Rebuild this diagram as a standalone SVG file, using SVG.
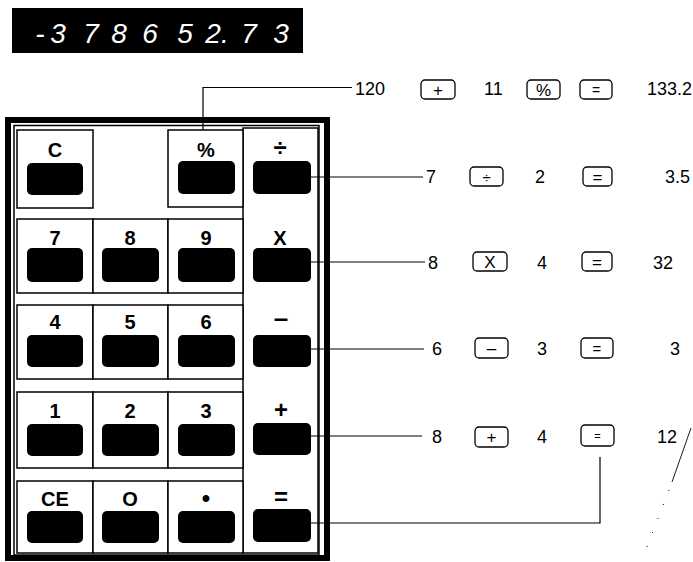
<svg xmlns="http://www.w3.org/2000/svg" width="693" height="562" viewBox="0 0 693 562">
<style>
.cell{fill:#fff;stroke:#000;stroke-width:1.5}
.key{fill:#000}
.lbl{font-family:"Liberation Sans",Arial,sans-serif;font-weight:bold;font-size:20px;text-anchor:middle;fill:#000}
.t{font-family:"Liberation Sans",Arial,sans-serif;font-size:18px;fill:#000}
.te{font-family:"Liberation Sans",Arial,sans-serif;font-size:18px;fill:#000;text-anchor:end}
.ic{fill:none;stroke:#000;stroke-width:1.3}
.is{font-family:"Liberation Sans",Arial,sans-serif;font-size:17px;text-anchor:middle;fill:#000}
.con{fill:none;stroke:#000;stroke-width:1.2}
.seg{font-family:"Liberation Sans",Arial,sans-serif;font-style:italic;font-size:28px;fill:#fff;text-anchor:middle}
</style>
<rect width="693" height="562" fill="#fff"/>
<g id="display">
<rect x="12" y="8" width="291" height="45" fill="#000"/>
<text class="seg" x="40" y="43">-</text>
<text class="seg" x="58" y="43">3</text>
<text class="seg" x="91" y="43">7</text>
<text class="seg" x="119" y="43">8</text>
<text class="seg" x="150" y="43">6</text>
<text class="seg" x="185" y="43">5</text>
<text class="seg" x="213" y="43">2</text>
<text class="seg" x="225" y="43">.</text>
<text class="seg" x="249" y="43">7</text>
<text class="seg" x="281" y="43">3</text>
</g>
<g id="frame">
<rect x="8" y="120" width="319" height="438" fill="none" stroke="#000" stroke-width="6"/>
<rect x="14" y="125.5" width="305" height="429.5" fill="none" stroke="#000" stroke-width="1.5"/>
<rect class="cell" x="243" y="128" width="75" height="425"/>
</g>
<g id="key-C"><rect class="cell" x="17" y="130" width="76" height="78"/><rect class="key" x="27" y="163" width="56" height="32" rx="5"/><text class="lbl" x="55" y="157">C</text></g>
<g id="key-pct"><rect class="cell" x="168" y="130" width="75" height="77"/><rect class="key" x="178" y="161" width="57" height="33" rx="5"/><text class="lbl" x="206" y="157">%</text></g>
<g id="key-div"><rect class="key" x="253" y="161" width="58" height="33" rx="5"/><text class="lbl" x="280" y="156" style="font-size:24px">÷</text></g>
<g id="key-7"><rect class="cell" x="17" y="219" width="76" height="74"/><rect class="key" x="27" y="248" width="56" height="34" rx="5"/><text class="lbl" x="55" y="245">7</text></g>
<g id="key-8"><rect class="cell" x="93" y="219" width="75" height="74"/><rect class="key" x="102" y="248" width="57" height="34" rx="5"/><text class="lbl" x="130" y="245">8</text></g>
<g id="key-9"><rect class="cell" x="168" y="219" width="75" height="74"/><rect class="key" x="178" y="248" width="57" height="34" rx="5"/><text class="lbl" x="206" y="245">9</text></g>
<g id="key-mul"><rect class="key" x="253" y="248" width="58" height="34" rx="5"/><text class="lbl" x="280" y="245">X</text></g>
<g id="key-4"><rect class="cell" x="17" y="305" width="76" height="74"/><rect class="key" x="27" y="335" width="56" height="32" rx="5"/><text class="lbl" x="55" y="329">4</text></g>
<g id="key-5"><rect class="cell" x="93" y="305" width="75" height="74"/><rect class="key" x="102" y="335" width="57" height="32" rx="5"/><text class="lbl" x="130" y="329">5</text></g>
<g id="key-6"><rect class="cell" x="168" y="305" width="75" height="74"/><rect class="key" x="178" y="335" width="57" height="32" rx="5"/><text class="lbl" x="206" y="329">6</text></g>
<g id="key-sub"><rect class="key" x="253" y="335" width="58" height="32" rx="5"/><text class="lbl" x="281" y="327" style="font-size:26px">–</text></g>
<g id="key-1"><rect class="cell" x="17" y="392" width="76" height="76"/><rect class="key" x="27" y="424" width="56" height="32" rx="5"/><text class="lbl" x="55" y="418">1</text></g>
<g id="key-2"><rect class="cell" x="93" y="392" width="75" height="76"/><rect class="key" x="102" y="424" width="57" height="32" rx="5"/><text class="lbl" x="130" y="418">2</text></g>
<g id="key-3"><rect class="cell" x="168" y="392" width="75" height="76"/><rect class="key" x="178" y="424" width="57" height="32" rx="5"/><text class="lbl" x="206" y="418">3</text></g>
<g id="key-add"><rect class="key" x="253" y="423" width="58" height="32" rx="5"/><text class="lbl" x="281" y="418" style="font-size:24px">+</text></g>
<g id="key-CE"><rect class="cell" x="17" y="481" width="76" height="72"/><rect class="key" x="27" y="511" width="56" height="32" rx="5"/><text class="lbl" x="55" y="506">CE</text></g>
<g id="key-0"><rect class="cell" x="93" y="481" width="75" height="72"/><rect class="key" x="102" y="511" width="57" height="32" rx="5"/><text class="lbl" x="130" y="506">O</text></g>
<g id="key-dot"><rect class="cell" x="168" y="481" width="75" height="72"/><rect class="key" x="178" y="511" width="57" height="32" rx="5"/><text class="lbl" x="206" y="506" style="font-size:24px">•</text></g>
<g id="key-eq"><rect class="key" x="253" y="509" width="58" height="33" rx="5"/><text class="lbl" x="281" y="505" style="font-size:24px">=</text></g>
<g id="connectors">
<polyline class="con" points="203,130 203,87.5 352,87.5"/>
<line class="con" x1="311" y1="177" x2="423" y2="177"/>
<line class="con" x1="311" y1="262" x2="425" y2="262"/>
<line class="con" x1="311" y1="349" x2="424" y2="349"/>
<line class="con" x1="311" y1="436" x2="422" y2="436"/>
<polyline class="con" points="311,523 600,523 600,457"/>
</g>
<g id="ex-pct">
<text class="t" x="355" y="95">120</text>
<rect class="ic" x="421" y="80" width="34" height="19" rx="4"/><text class="is" x="438" y="96">+</text>
<text class="t" x="484" y="95">11</text>
<rect class="ic" x="527" y="80" width="33" height="19" rx="4"/><text class="is" x="543.5" y="96">%</text>
<rect class="ic" x="580" y="80" width="32" height="19" rx="4"/><text class="is" x="596" y="95" style="font-size:14px">=</text>
<text class="te" x="692" y="95">133.2</text>
</g>
<g id="ex-div">
<text class="t" x="426" y="183">7</text>
<rect class="ic" x="470" y="167" width="33" height="19" rx="4"/><text class="is" x="486.5" y="183" style="font-size:15px">÷</text>
<text class="t" x="535" y="183">2</text>
<rect class="ic" x="583" y="167" width="29" height="19" rx="4"/><text class="is" x="597.5" y="183">=</text>
<text class="te" x="690" y="183">3.5</text>
</g>
<g id="ex-mul">
<text class="t" x="428" y="269">8</text>
<rect class="ic" x="473" y="252" width="34" height="19" rx="4"/><text class="is" x="490" y="268">X</text>
<text class="t" x="537" y="269">4</text>
<rect class="ic" x="582" y="252" width="30" height="19" rx="4"/><text class="is" x="597" y="268">=</text>
<text class="te" x="673" y="269">32</text>
</g>
<g id="ex-sub">
<text class="t" x="432" y="355">6</text>
<rect class="ic" x="475" y="338" width="33" height="20" rx="4"/><text class="is" x="491.5" y="354">–</text>
<text class="t" x="537" y="355">3</text>
<rect class="ic" x="581" y="338" width="32" height="20" rx="4"/><text class="is" x="597" y="354" style="font-size:15px">=</text>
<text class="te" x="680" y="355">3</text>
</g>
<g id="ex-add">
<text class="t" x="432" y="443">8</text>
<rect class="ic" x="475" y="427" width="33" height="20" rx="4"/><text class="is" x="491.5" y="443">+</text>
<text class="t" x="537" y="443">4</text>
<rect class="ic" x="581" y="425" width="33" height="21" rx="4"/><text class="is" x="597.5" y="440" style="font-size:11px">=</text>
<text class="te" x="677" y="443">12</text>
</g>
<g id="marks">
<line x1="691" y1="428" x2="672" y2="482" stroke="#000" stroke-width="0.9"/>
<line x1="669" y1="490" x2="643" y2="557" stroke="#000" stroke-width="1" stroke-dasharray="1 14"/>
</g>
</svg>
